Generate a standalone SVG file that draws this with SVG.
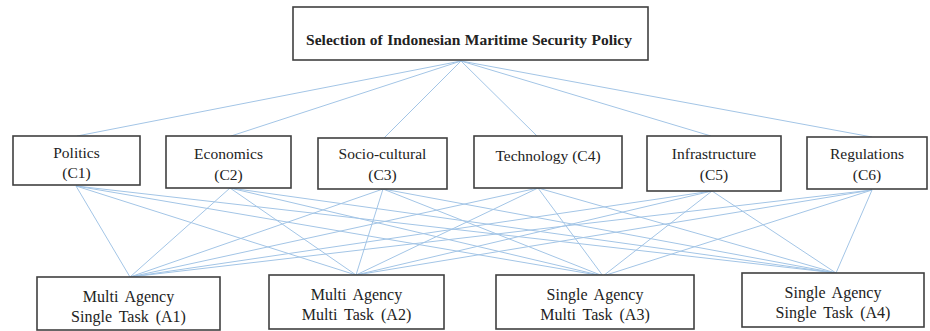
<svg xmlns="http://www.w3.org/2000/svg" width="930" height="331" viewBox="0 0 930 331">
<style>
.box{fill:#fff;stroke:#404040;stroke-width:1.6}
.ln{stroke:#a3c5e6;stroke-width:1;fill:none}
text{font-family:"Liberation Serif","Times New Roman",serif;fill:#222;text-anchor:middle}
.t{font-size:15.5px;font-weight:bold;word-spacing:0.5px}
.c{font-size:15.5px}
.a{font-size:16px;word-spacing:3px}
</style>
<rect width="930" height="331" fill="#fff"/>
<g id="connectors">
<line class="ln" x1="461" y1="61" x2="77" y2="136"/>
<line class="ln" x1="461" y1="61" x2="231" y2="136"/>
<line class="ln" x1="461" y1="61" x2="384" y2="138"/>
<line class="ln" x1="461" y1="61" x2="537" y2="136"/>
<line class="ln" x1="461" y1="61" x2="711" y2="136"/>
<line class="ln" x1="461" y1="61" x2="872" y2="137"/>
<line class="ln" x1="76" y1="186" x2="130" y2="277"/>
<line class="ln" x1="76" y1="186" x2="356" y2="275"/>
<line class="ln" x1="76" y1="186" x2="603" y2="276"/>
<line class="ln" x1="76" y1="186" x2="836" y2="273"/>
<line class="ln" x1="230" y1="188" x2="130" y2="277"/>
<line class="ln" x1="230" y1="188" x2="356" y2="275"/>
<line class="ln" x1="230" y1="188" x2="603" y2="276"/>
<line class="ln" x1="230" y1="188" x2="836" y2="273"/>
<line class="ln" x1="383" y1="189" x2="130" y2="277"/>
<line class="ln" x1="383" y1="189" x2="356" y2="275"/>
<line class="ln" x1="383" y1="189" x2="603" y2="276"/>
<line class="ln" x1="383" y1="189" x2="836" y2="273"/>
<line class="ln" x1="538" y1="188" x2="130" y2="277"/>
<line class="ln" x1="538" y1="188" x2="356" y2="275"/>
<line class="ln" x1="538" y1="188" x2="603" y2="276"/>
<line class="ln" x1="538" y1="188" x2="836" y2="273"/>
<line class="ln" x1="712" y1="191" x2="130" y2="277"/>
<line class="ln" x1="712" y1="191" x2="356" y2="275"/>
<line class="ln" x1="712" y1="191" x2="603" y2="276"/>
<line class="ln" x1="712" y1="191" x2="836" y2="273"/>
<line class="ln" x1="872" y1="190" x2="130" y2="277"/>
<line class="ln" x1="872" y1="190" x2="356" y2="275"/>
<line class="ln" x1="872" y1="190" x2="603" y2="276"/>
<line class="ln" x1="872" y1="190" x2="836" y2="273"/>
</g>
<g id="goal"><rect class="box" x="293" y="7" width="355" height="53"/><text class="t" x="469" y="45">Selection of Indonesian Maritime Security Policy</text></g>
<g id="c1"><rect class="box" x="13" y="136" width="127" height="49"/><text class="c" x="76.5" y="158">Politics</text><text class="c" x="76.5" y="178">(C1)</text></g>
<g id="c2"><rect class="box" x="166" y="136" width="125" height="52"/><text class="c" x="228.5" y="159">Economics</text><text class="c" x="228.5" y="180">(C2)</text></g>
<g id="c3"><rect class="box" x="318" y="138" width="129" height="51"/><text class="c" x="382.5" y="159">Socio-cultural</text><text class="c" x="382.5" y="180">(C3)</text></g>
<g id="c4"><rect class="box" x="474" y="136" width="148" height="52"/><text class="c" x="548" y="161">Technology (C4)</text></g>
<g id="c5"><rect class="box" x="647" y="136" width="134" height="55"/><text class="c" x="714" y="159">Infrastructure</text><text class="c" x="714" y="180">(C5)</text></g>
<g id="c6"><rect class="box" x="807" y="137" width="120" height="52"/><text class="c" x="867" y="159">Regulations</text><text class="c" x="867" y="180">(C6)</text></g>
<g id="a1"><rect class="box" x="37" y="277" width="183" height="53"/><text class="a" x="128.5" y="302">Multi Agency</text><text class="a" x="128.5" y="322">Single Task (A1)</text></g>
<g id="a2"><rect class="box" x="269" y="275" width="175" height="54"/><text class="a" x="356.5" y="300">Multi Agency</text><text class="a" x="356.5" y="320">Multi Task (A2)</text></g>
<g id="a3"><rect class="box" x="496" y="275" width="198" height="54"/><text class="a" x="595" y="300">Single Agency</text><text class="a" x="595" y="320">Multi Task (A3)</text></g>
<g id="a4"><rect class="box" x="742" y="273" width="182" height="54"/><text class="a" x="833" y="298">Single Agency</text><text class="a" x="833" y="318">Single Task (A4)</text></g>
</svg>
